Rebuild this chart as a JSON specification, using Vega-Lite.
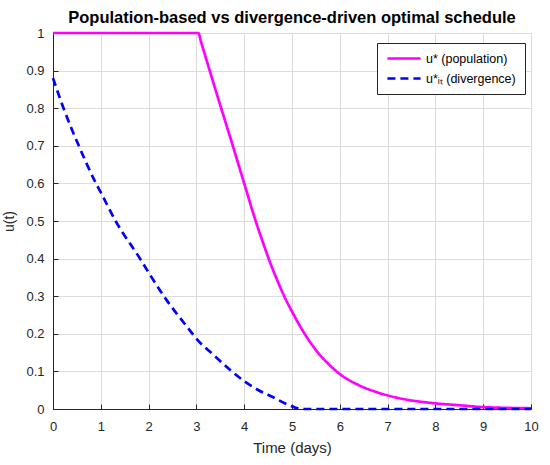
{
  "$schema": "https://vega.github.io/schema/vega-lite/v6.json",
  "width": 478,
  "height": 376,
  "autosize": "none",
  "padding": {"left": 53, "top": 33, "right": 19, "bottom": 56},
  "background": "white",
  "title": {
    "text": "Population-based vs divergence-driven optimal schedule",
    "font": "Liberation Sans",
    "fontSize": 16.5,
    "fontWeight": "bold",
    "color": "#000000",
    "anchor": "middle",
    "offset": 1
  },
  "data": {
    "values": [
      {"t": 0, "u": 1, "series": "u* (population)"},
      {"t": 3.04, "u": 1, "series": "u* (population)"},
      {"t": 3.1, "u": 0.975, "series": "u* (population)"},
      {"t": 3.47, "u": 0.82, "series": "u* (population)"},
      {"t": 3.75, "u": 0.705, "series": "u* (population)"},
      {"t": 4.0, "u": 0.6, "series": "u* (population)"},
      {"t": 4.24, "u": 0.5, "series": "u* (population)"},
      {"t": 4.4, "u": 0.44, "series": "u* (population)"},
      {"t": 4.55, "u": 0.387, "series": "u* (population)"},
      {"t": 4.69, "u": 0.343, "series": "u* (population)"},
      {"t": 4.83, "u": 0.302, "series": "u* (population)"},
      {"t": 5.03, "u": 0.252, "series": "u* (population)"},
      {"t": 5.25, "u": 0.203, "series": "u* (population)"},
      {"t": 5.53, "u": 0.152, "series": "u* (population)"},
      {"t": 5.81, "u": 0.114, "series": "u* (population)"},
      {"t": 6.02, "u": 0.091, "series": "u* (population)"},
      {"t": 6.37, "u": 0.065, "series": "u* (population)"},
      {"t": 6.79, "u": 0.044, "series": "u* (population)"},
      {"t": 7.27, "u": 0.028, "series": "u* (population)"},
      {"t": 8, "u": 0.015, "series": "u* (population)"},
      {"t": 8.5, "u": 0.01, "series": "u* (population)"},
      {"t": 9, "u": 0.005, "series": "u* (population)"},
      {"t": 9.5, "u": 0.003, "series": "u* (population)"},
      {"t": 10, "u": 0.002, "series": "u* (population)"},
      {"t": 0, "u": 0.88, "series": "u*ᵢₜ (divergence)"},
      {"t": 0.22, "u": 0.8, "series": "u*ᵢₜ (divergence)"},
      {"t": 0.54, "u": 0.7, "series": "u*ᵢₜ (divergence)"},
      {"t": 0.9, "u": 0.6, "series": "u*ᵢₜ (divergence)"},
      {"t": 1.0, "u": 0.576, "series": "u*ᵢₜ (divergence)"},
      {"t": 1.31, "u": 0.5, "series": "u*ᵢₜ (divergence)"},
      {"t": 1.82, "u": 0.4, "series": "u*ᵢₜ (divergence)"},
      {"t": 2.0, "u": 0.363, "series": "u*ᵢₜ (divergence)"},
      {"t": 2.32, "u": 0.3, "series": "u*ᵢₜ (divergence)"},
      {"t": 2.92, "u": 0.2, "series": "u*ᵢₜ (divergence)"},
      {"t": 3.0, "u": 0.187, "series": "u*ᵢₜ (divergence)"},
      {"t": 3.35, "u": 0.145, "series": "u*ᵢₜ (divergence)"},
      {"t": 3.74, "u": 0.1, "series": "u*ᵢₜ (divergence)"},
      {"t": 4.0, "u": 0.074, "series": "u*ᵢₜ (divergence)"},
      {"t": 4.3, "u": 0.05, "series": "u*ᵢₜ (divergence)"},
      {"t": 4.56, "u": 0.034, "series": "u*ᵢₜ (divergence)"},
      {"t": 5.0, "u": 0.007, "series": "u*ᵢₜ (divergence)"},
      {"t": 5.2, "u": 0, "series": "u*ᵢₜ (divergence)"},
      {"t": 10, "u": 0, "series": "u*ᵢₜ (divergence)"}
    ]
  },
  "mark": {"type": "line", "strokeWidth": 2.7, "interpolate": "monotone"},
  "encoding": {
    "x": {
      "field": "t",
      "type": "quantitative",
      "scale": {"domain": [0, 10], "nice": false},
      "axis": {
        "title": "Time (days)",
        "values": [0, 1, 2, 3, 4, 5, 6, 7, 8, 9, 10],
        "format": "d",
        "labelFlush": false,
        "labelPadding": 16,
        "titleFontSize": 15,
        "titlePadding": 7
      }
    },
    "y": {
      "field": "u",
      "type": "quantitative",
      "scale": {"domain": [0, 1], "nice": false},
      "axis": {
        "title": "u(t)",
        "values": [0, 0.1, 0.2, 0.3, 0.4, 0.5, 0.6, 0.7, 0.8, 0.9, 1],
        "format": "~g",
        "labelFlush": false,
        "labelPadding": 14,
        "titleFontSize": 14,
        "titlePadding": 9
      }
    },
    "color": {
      "field": "series",
      "type": "nominal",
      "scale": {
        "domain": ["u* (population)", "u*ᵢₜ (divergence)"],
        "range": ["#FF00FF", "#0000FF"]
      },
      "legend": {
        "title": null,
        "orient": "none",
        "legendX": 324,
        "legendY": 10,
        "fillColor": "white",
        "strokeColor": "#262626",
        "padding": 9,
        "rowPadding": 7,
        "clipHeight": 13,
        "symbolType": "stroke",
        "symbolSize": 1100,
        "symbolStrokeWidth": 2.7,
        "labelFont": "Liberation Sans",
        "labelFontSize": 12.5,
        "labelColor": "#000000",
        "labelOffset": 4
      }
    },
    "strokeDash": {
      "field": "series",
      "type": "nominal",
      "scale": {
        "domain": ["u* (population)", "u*ᵢₜ (divergence)"],
        "range": [[1, 0], [8, 5]]
      },
      "legend": null
    }
  },
  "config": {
    "view": {"stroke": null},
    "axis": {
      "grid": true,
      "gridColor": "#dcdcdc",
      "gridWidth": 1,
      "domainColor": "#262626",
      "domainWidth": 1,
      "tickColor": "#262626",
      "tickSize": -5,
      "tickWidth": 1,
      "labelColor": "#262626",
      "labelFont": "Liberation Sans",
      "labelFontSize": 13,
      "titleColor": "#262626",
      "titleFont": "Liberation Sans",
      "titleFontWeight": "normal"
    }
  }
}
